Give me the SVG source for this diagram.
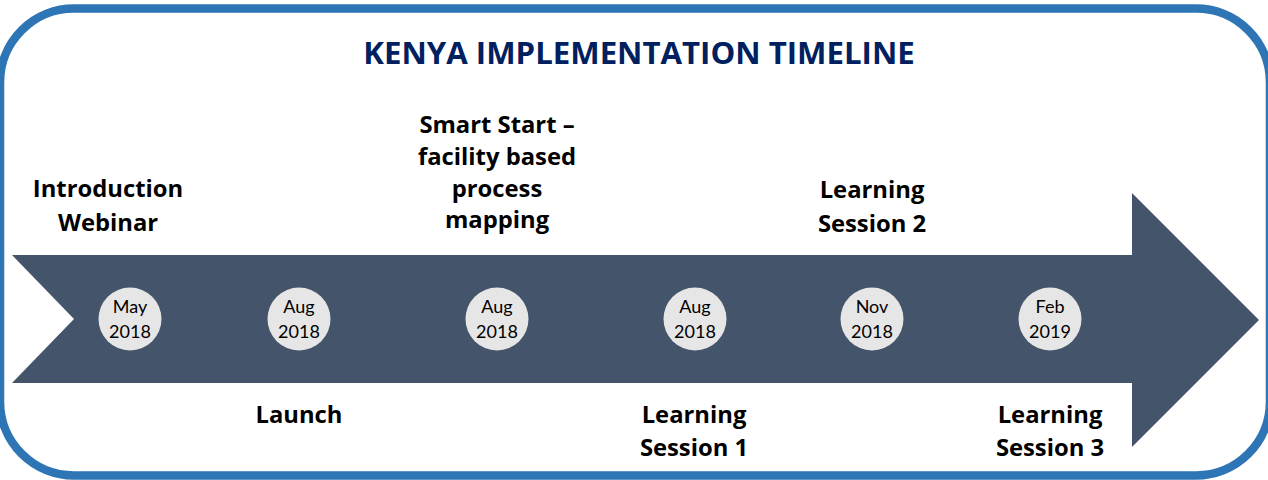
<svg xmlns="http://www.w3.org/2000/svg" width="1268" height="480" viewBox="0 0 1268 480">
  <style>
    .frame { fill: #ffffff; stroke: #2e75b6; stroke-width: 8.5; }
    .title { font-family: "Open Sans", "Liberation Sans", sans-serif; font-weight: bold; font-size: 31.2px; fill: #002060; text-anchor: middle; }
    .band { fill: #44546a; }
    .dot { fill: #e7e6e6; }
    .date { font-family: Lato, "Liberation Sans", sans-serif; font-size: 18px; fill: #000000; text-anchor: middle; }
    .label { font-family: "Open Sans", "Liberation Sans", sans-serif; font-weight: bold; font-size: 23.8px; fill: #000000; text-anchor: middle; }
  </style>

  <!-- rounded outer frame -->
  <rect class="frame" x="0" y="8.5" width="1270" height="467" rx="74" ry="74"/>

  <text class="title" x="639" y="64">KENYA IMPLEMENTATION TIMELINE</text>

  <!-- notched timeline arrow -->
  <g id="timeline-arrow">
    <polygon class="band" points="12,255 1132,255 1132,193 1259,320 1132,447 1132,383 12,383 74,319"/>
  </g>

  <g id="connectors"/>

  <g id="m1">
    <circle class="dot" cx="130" cy="319" r="31.5"/>
    <text class="date" x="130" y="313">May</text>
    <text class="date" x="130" y="338">2018</text>
    <text class="label" x="108" y="197">Introduction</text>
    <text class="label" x="108" y="231">Webinar</text>
  </g>

  <g id="m2">
    <circle class="dot" cx="299" cy="319" r="31.5"/>
    <text class="date" x="299" y="313">Aug</text>
    <text class="date" x="299" y="338">2018</text>
    <text class="label" x="299" y="423">Launch</text>
  </g>

  <g id="m3">
    <circle class="dot" cx="497" cy="319" r="31.5"/>
    <text class="date" x="497" y="313">Aug</text>
    <text class="date" x="497" y="338">2018</text>
    <text class="label" x="497" y="133">Smart Start –</text>
    <text class="label" x="497" y="165">facility based</text>
    <text class="label" x="497" y="197">process</text>
    <text class="label" x="497" y="228">mapping</text>
  </g>

  <g id="m4">
    <circle class="dot" cx="695" cy="319" r="31.5"/>
    <text class="date" x="695" y="313">Aug</text>
    <text class="date" x="695" y="338">2018</text>
    <text class="label" x="694" y="423">Learning</text>
    <text class="label" x="694" y="456">Session 1</text>
  </g>

  <g id="m5">
    <circle class="dot" cx="872" cy="319" r="31.5"/>
    <text class="date" x="872" y="313">Nov</text>
    <text class="date" x="872" y="338">2018</text>
    <text class="label" x="872" y="198">Learning</text>
    <text class="label" x="872" y="232">Session 2</text>
  </g>

  <g id="m6">
    <circle class="dot" cx="1050" cy="319" r="31.5"/>
    <text class="date" x="1050" y="313">Feb</text>
    <text class="date" x="1050" y="338">2019</text>
    <text class="label" x="1050" y="423">Learning</text>
    <text class="label" x="1050" y="456">Session 3</text>
  </g>
</svg>
